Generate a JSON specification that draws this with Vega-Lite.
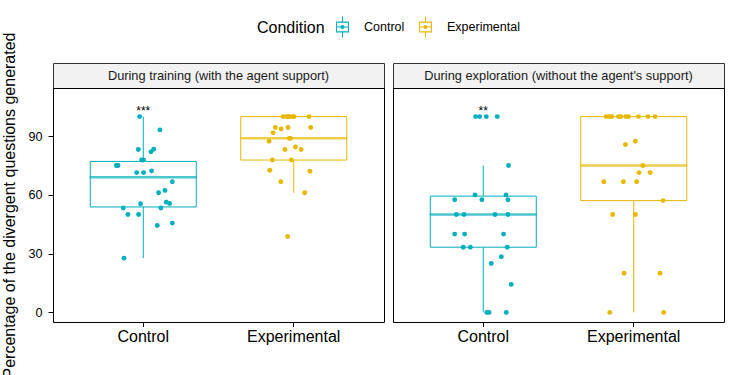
{
  "$schema": "https://vega.github.io/schema/vega-lite/v6.json",
  "background": "white",
  "padding": {"left": 1, "top": 16, "right": 8, "bottom": 0},
  "datasets": {
    "obs": [
      {"Phase": "training", "Condition": "Control", "Percentage": 100, "jitter": -0.024},
      {"Phase": "training", "Condition": "Control", "Percentage": 93.2, "jitter": 0.111},
      {"Phase": "training", "Condition": "Control", "Percentage": 83.2, "jitter": -0.033},
      {"Phase": "training", "Condition": "Control", "Percentage": 82.0, "jitter": 0.051},
      {"Phase": "training", "Condition": "Control", "Percentage": 83.3, "jitter": 0.069},
      {"Phase": "training", "Condition": "Control", "Percentage": 77.8, "jitter": 0.002},
      {"Phase": "training", "Condition": "Control", "Percentage": 77.8, "jitter": -0.011},
      {"Phase": "training", "Condition": "Control", "Percentage": 75, "jitter": -0.179},
      {"Phase": "training", "Condition": "Control", "Percentage": 75, "jitter": -0.168},
      {"Phase": "training", "Condition": "Control", "Percentage": 75, "jitter": -0.173},
      {"Phase": "training", "Condition": "Control", "Percentage": 71.4, "jitter": -0.044},
      {"Phase": "training", "Condition": "Control", "Percentage": 71.4, "jitter": 0.002},
      {"Phase": "training", "Condition": "Control", "Percentage": 72.3, "jitter": 0.055},
      {"Phase": "training", "Condition": "Control", "Percentage": 66.7, "jitter": 0.193},
      {"Phase": "training", "Condition": "Control", "Percentage": 61.1, "jitter": 0.102},
      {"Phase": "training", "Condition": "Control", "Percentage": 62.3, "jitter": 0.144},
      {"Phase": "training", "Condition": "Control", "Percentage": 55.5, "jitter": -0.018},
      {"Phase": "training", "Condition": "Control", "Percentage": 56.3, "jitter": 0.153},
      {"Phase": "training", "Condition": "Control", "Percentage": 55.6, "jitter": 0.175},
      {"Phase": "training", "Condition": "Control", "Percentage": 53.3, "jitter": -0.133},
      {"Phase": "training", "Condition": "Control", "Percentage": 53.3, "jitter": 0.117},
      {"Phase": "training", "Condition": "Control", "Percentage": 50, "jitter": -0.102},
      {"Phase": "training", "Condition": "Control", "Percentage": 50, "jitter": -0.031},
      {"Phase": "training", "Condition": "Control", "Percentage": 44.4, "jitter": 0.093},
      {"Phase": "training", "Condition": "Control", "Percentage": 45.6, "jitter": 0.193},
      {"Phase": "training", "Condition": "Control", "Percentage": 27.7, "jitter": -0.128},
      {"Phase": "training", "Condition": "Experimental", "Percentage": 100, "jitter": -0.071},
      {"Phase": "training", "Condition": "Experimental", "Percentage": 100, "jitter": -0.049},
      {"Phase": "training", "Condition": "Experimental", "Percentage": 100, "jitter": -0.038},
      {"Phase": "training", "Condition": "Experimental", "Percentage": 100, "jitter": -0.027},
      {"Phase": "training", "Condition": "Experimental", "Percentage": 100, "jitter": -0.009},
      {"Phase": "training", "Condition": "Experimental", "Percentage": 100, "jitter": 0.002},
      {"Phase": "training", "Condition": "Experimental", "Percentage": 100, "jitter": 0.102},
      {"Phase": "training", "Condition": "Experimental", "Percentage": 94.4, "jitter": -0.122},
      {"Phase": "training", "Condition": "Experimental", "Percentage": 93.7, "jitter": -0.084},
      {"Phase": "training", "Condition": "Experimental", "Percentage": 94.4, "jitter": -0.038},
      {"Phase": "training", "Condition": "Experimental", "Percentage": 94.4, "jitter": 0.113},
      {"Phase": "training", "Condition": "Experimental", "Percentage": 91.7, "jitter": -0.137},
      {"Phase": "training", "Condition": "Experimental", "Percentage": 88.9, "jitter": -0.029},
      {"Phase": "training", "Condition": "Experimental", "Percentage": 88.9, "jitter": -0.022},
      {"Phase": "training", "Condition": "Experimental", "Percentage": 87.4, "jitter": -0.164},
      {"Phase": "training", "Condition": "Experimental", "Percentage": 83.2, "jitter": -0.058},
      {"Phase": "training", "Condition": "Experimental", "Percentage": 84.5, "jitter": 0.011},
      {"Phase": "training", "Condition": "Experimental", "Percentage": 83.2, "jitter": 0.049},
      {"Phase": "training", "Condition": "Experimental", "Percentage": 77.8, "jitter": -0.142},
      {"Phase": "training", "Condition": "Experimental", "Percentage": 77.8, "jitter": -0.016},
      {"Phase": "training", "Condition": "Experimental", "Percentage": 72.6, "jitter": -0.159},
      {"Phase": "training", "Condition": "Experimental", "Percentage": 72.1, "jitter": 0.108},
      {"Phase": "training", "Condition": "Experimental", "Percentage": 66.7, "jitter": -0.086},
      {"Phase": "training", "Condition": "Experimental", "Percentage": 61.1, "jitter": 0.073},
      {"Phase": "training", "Condition": "Experimental", "Percentage": 38.8, "jitter": -0.040},
      {"Phase": "exploration", "Condition": "Control", "Percentage": 100, "jitter": -0.051},
      {"Phase": "exploration", "Condition": "Control", "Percentage": 100, "jitter": -0.024},
      {"Phase": "exploration", "Condition": "Control", "Percentage": 100, "jitter": 0.020},
      {"Phase": "exploration", "Condition": "Control", "Percentage": 100, "jitter": 0.093},
      {"Phase": "exploration", "Condition": "Control", "Percentage": 75, "jitter": 0.168},
      {"Phase": "exploration", "Condition": "Control", "Percentage": 60, "jitter": -0.055},
      {"Phase": "exploration", "Condition": "Control", "Percentage": 60, "jitter": 0.151},
      {"Phase": "exploration", "Condition": "Control", "Percentage": 57.5, "jitter": -0.190},
      {"Phase": "exploration", "Condition": "Control", "Percentage": 57.5, "jitter": -0.009},
      {"Phase": "exploration", "Condition": "Control", "Percentage": 57.5, "jitter": 0.164},
      {"Phase": "exploration", "Condition": "Control", "Percentage": 50, "jitter": -0.179},
      {"Phase": "exploration", "Condition": "Control", "Percentage": 50, "jitter": -0.128},
      {"Phase": "exploration", "Condition": "Control", "Percentage": 50, "jitter": 0.078},
      {"Phase": "exploration", "Condition": "Control", "Percentage": 50, "jitter": 0.164},
      {"Phase": "exploration", "Condition": "Control", "Percentage": 40, "jitter": -0.190},
      {"Phase": "exploration", "Condition": "Control", "Percentage": 40, "jitter": -0.124},
      {"Phase": "exploration", "Condition": "Control", "Percentage": 40, "jitter": 0.135},
      {"Phase": "exploration", "Condition": "Control", "Percentage": 33.3, "jitter": -0.133},
      {"Phase": "exploration", "Condition": "Control", "Percentage": 33.3, "jitter": -0.086},
      {"Phase": "exploration", "Condition": "Control", "Percentage": 33.3, "jitter": 0.159},
      {"Phase": "exploration", "Condition": "Control", "Percentage": 28.4, "jitter": 0.120},
      {"Phase": "exploration", "Condition": "Control", "Percentage": 25, "jitter": 0.053},
      {"Phase": "exploration", "Condition": "Control", "Percentage": 14.3, "jitter": 0.186},
      {"Phase": "exploration", "Condition": "Control", "Percentage": 0, "jitter": 0.024},
      {"Phase": "exploration", "Condition": "Control", "Percentage": 0, "jitter": 0.038},
      {"Phase": "exploration", "Condition": "Control", "Percentage": 0, "jitter": 0.153},
      {"Phase": "exploration", "Condition": "Experimental", "Percentage": 100, "jitter": -0.184},
      {"Phase": "exploration", "Condition": "Experimental", "Percentage": 100, "jitter": -0.164},
      {"Phase": "exploration", "Condition": "Experimental", "Percentage": 100, "jitter": -0.146},
      {"Phase": "exploration", "Condition": "Experimental", "Percentage": 100, "jitter": -0.102},
      {"Phase": "exploration", "Condition": "Experimental", "Percentage": 100, "jitter": -0.086},
      {"Phase": "exploration", "Condition": "Experimental", "Percentage": 100, "jitter": -0.053},
      {"Phase": "exploration", "Condition": "Experimental", "Percentage": 100, "jitter": -0.035},
      {"Phase": "exploration", "Condition": "Experimental", "Percentage": 100, "jitter": 0.031},
      {"Phase": "exploration", "Condition": "Experimental", "Percentage": 100, "jitter": 0.095},
      {"Phase": "exploration", "Condition": "Experimental", "Percentage": 100, "jitter": 0.142},
      {"Phase": "exploration", "Condition": "Experimental", "Percentage": 87.4, "jitter": 0.011},
      {"Phase": "exploration", "Condition": "Experimental", "Percentage": 85.7, "jitter": -0.055},
      {"Phase": "exploration", "Condition": "Experimental", "Percentage": 75, "jitter": 0.060},
      {"Phase": "exploration", "Condition": "Experimental", "Percentage": 71.4, "jitter": 0.035},
      {"Phase": "exploration", "Condition": "Experimental", "Percentage": 71.4, "jitter": 0.109},
      {"Phase": "exploration", "Condition": "Experimental", "Percentage": 66.7, "jitter": -0.199},
      {"Phase": "exploration", "Condition": "Experimental", "Percentage": 66.7, "jitter": -0.069},
      {"Phase": "exploration", "Condition": "Experimental", "Percentage": 66.7, "jitter": 0.020},
      {"Phase": "exploration", "Condition": "Experimental", "Percentage": 57.1, "jitter": 0.195},
      {"Phase": "exploration", "Condition": "Experimental", "Percentage": 50, "jitter": -0.140},
      {"Phase": "exploration", "Condition": "Experimental", "Percentage": 50, "jitter": 0.011},
      {"Phase": "exploration", "Condition": "Experimental", "Percentage": 20, "jitter": -0.064},
      {"Phase": "exploration", "Condition": "Experimental", "Percentage": 20, "jitter": 0.175},
      {"Phase": "exploration", "Condition": "Experimental", "Percentage": 0, "jitter": -0.159},
      {"Phase": "exploration", "Condition": "Experimental", "Percentage": 0, "jitter": 0.199}
    ],
    "sig": [
      {"Phase": "training", "Condition": "Control", "Percentage": 101, "label": "***"},
      {"Phase": "exploration", "Condition": "Control", "Percentage": 101, "label": "**"}
    ],
    "strips": [
      {"Phase": "training", "title": "During training (with the agent support)"},
      {"Phase": "exploration", "title": "During exploration (without the agent's support)"}
    ]
  },
  "columns": 2,
  "align": "each",
  "bounds": "flush",
  "spacing": {"row": 0, "column": 9},
  "concat": [
    {
      "width": 331, "height": 25,
      "view": {"fill": "#F2F2F2", "stroke": "#333333", "strokeWidth": 1},
      "data": {"name": "strips"},
      "transform": [{"filter": "datum.Phase === 'training'"}],
      "mark": {"type": "text", "fontSize": 12.8, "color": "#1A1A1A"},
      "encoding": {"text": {"field": "title", "type": "nominal"}}
    },
    {
      "width": 331, "height": 25,
      "view": {"fill": "#F2F2F2", "stroke": "#333333", "strokeWidth": 1},
      "data": {"name": "strips"},
      "transform": [{"filter": "datum.Phase === 'exploration'"}],
      "mark": {"type": "text", "fontSize": 12.8, "color": "#1A1A1A"},
      "encoding": {"text": {"field": "title", "type": "nominal"}}
    },
    {
      "width": 331, "height": 234,
      "layer": [
        {
          "data": {"name": "obs"},
          "transform": [{"filter": "datum.Phase === 'training'"}],
          "mark": {"type": "boxplot", "extent": 1.5, "outliers": false, "size": 106,
                   "box": {"fill": "white", "strokeWidth": 1},
                   "median": {"thickness": 1.2, "strokeWidth": 1.2},
                   "rule": {"strokeWidth": 1}},
          "encoding": {
            "x": {"field": "Condition", "type": "nominal", "scale": {"domain": ["Control", "Experimental"], "paddingInner": 0, "paddingOuter": 0.1},
                  "axis": {"title": null, "labelAngle": 0, "labelFontSize": 16, "labelPadding": 2, "tickSize": 4.5}},
            "y": {"field": "Percentage", "type": "quantitative", "scale": {"domain": [-4.9, 114.6], "nice": false, "zero": false},
                  "axis": {"values": [0, 30, 60, 90], "title": "Percentage of the divergent questions generated", "titleFontSize": 16, "titlePadding": 10, "labelFontSize": 12.6, "labelPadding": 6, "tickSize": 5}},
            "stroke": {"field": "Condition", "type": "nominal", "scale": {"domain": ["Control", "Experimental"], "range": ["#00AFBB", "#E7B800"]},
                       "legend": {"title": "Condition", "orient": "none", "legendX": 204, "legendY": -46.5, "direction": "horizontal", "titleOrient": "left",
                                  "titleFontSize": 16, "titleFontWeight": "normal", "titleColor": "black", "titlePadding": 7,
                                  "labelFontSize": 12.5, "labelColor": "black", "labelOffset": 11, "columnPadding": 10,
                                  "symbolType": "M-0.62,-0.52H0.62V0.52H-0.62Z M-0.515,-0.415V0.415H0.515V-0.415Z M-0.515,-0.05H0.515V0.05H-0.515Z M-0.05,-1H0.05V-0.52H-0.05Z M-0.05,0.52H0.05V1H-0.05Z M-0.19,0A0.19,0.19,0,1,1,0.19,0A0.19,0.19,0,1,1,-0.19,0Z",
                                  "symbolSize": 441, "symbolStrokeWidth": 0}}
          }
        },
        {
          "data": {"name": "obs"},
          "transform": [{"filter": "datum.Phase === 'training'"}],
          "mark": {"type": "circle", "size": 24, "opacity": 1},
          "encoding": {
            "x": {"field": "Condition", "type": "nominal"},
            "xOffset": {"field": "jitter", "type": "quantitative", "scale": {"domain": [-0.5, 0.5], "nice": false, "zero": false}},
            "y": {"field": "Percentage", "type": "quantitative"},
            "color": {"field": "Condition", "type": "nominal", "scale": {"domain": ["Control", "Experimental"], "range": ["#00AFBB", "#E7B800"]}, "legend": null}
          }
        },
        {
          "data": {"name": "sig"},
          "transform": [{"filter": "datum.Phase === 'training'"}],
          "mark": {"type": "text", "fontSize": 12, "baseline": "alphabetic", "color": "black"},
          "encoding": {
            "x": {"field": "Condition", "type": "nominal"},
            "y": {"field": "Percentage", "type": "quantitative"},
            "text": {"field": "label", "type": "nominal"}
          }
        }
      ]
    },
    {
      "width": 331, "height": 234,
      "layer": [
        {
          "data": {"name": "obs"},
          "transform": [{"filter": "datum.Phase === 'exploration'"}],
          "mark": {"type": "boxplot", "extent": 1.5, "outliers": false, "size": 106,
                   "box": {"fill": "white", "strokeWidth": 1},
                   "median": {"thickness": 1.2, "strokeWidth": 1.2},
                   "rule": {"strokeWidth": 1}},
          "encoding": {
            "x": {"field": "Condition", "type": "nominal", "scale": {"domain": ["Control", "Experimental"], "paddingInner": 0, "paddingOuter": 0.1},
                  "axis": {"title": null, "labelAngle": 0, "labelFontSize": 16, "labelPadding": 2, "tickSize": 4.5}},
            "y": {"field": "Percentage", "type": "quantitative", "scale": {"domain": [-4.9, 114.6], "nice": false, "zero": false}, "axis": null},
            "stroke": {"field": "Condition", "type": "nominal", "scale": {"domain": ["Control", "Experimental"], "range": ["#00AFBB", "#E7B800"]}}
          }
        },
        {
          "data": {"name": "obs"},
          "transform": [{"filter": "datum.Phase === 'exploration'"}],
          "mark": {"type": "circle", "size": 24, "opacity": 1},
          "encoding": {
            "x": {"field": "Condition", "type": "nominal"},
            "xOffset": {"field": "jitter", "type": "quantitative", "scale": {"domain": [-0.5, 0.5], "nice": false, "zero": false}},
            "y": {"field": "Percentage", "type": "quantitative"},
            "color": {"field": "Condition", "type": "nominal", "scale": {"domain": ["Control", "Experimental"], "range": ["#00AFBB", "#E7B800"]}, "legend": null}
          }
        },
        {
          "data": {"name": "sig"},
          "transform": [{"filter": "datum.Phase === 'exploration'"}],
          "mark": {"type": "text", "fontSize": 12, "baseline": "alphabetic", "color": "black"},
          "encoding": {
            "x": {"field": "Condition", "type": "nominal"},
            "y": {"field": "Percentage", "type": "quantitative"},
            "text": {"field": "label", "type": "nominal"}
          }
        }
      ]
    }
  ],
  "config": {
    "font": "Liberation Sans",
    "view": {"stroke": "black", "strokeWidth": 1},
    "axis": {"grid": false, "domain": false, "tickColor": "black", "labelColor": "black", "titleColor": "black", "titleFontWeight": "normal"}
  }
}
